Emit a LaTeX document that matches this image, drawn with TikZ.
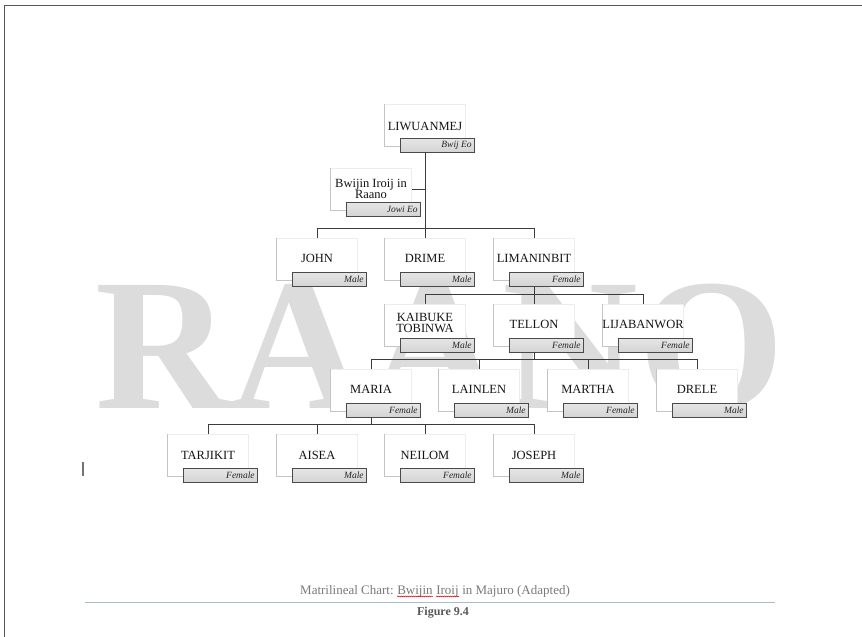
\documentclass[tikz,border=0pt]{standalone}
\usepackage{fontspec}
\setmainfont{Liberation Serif}
\usetikzlibrary{decorations.pathmorphing}
\definecolor{wmc}{HTML}{DCDCDC}
\definecolor{shadc}{HTML}{C4C4C4}
\definecolor{edgec}{HTML}{EDEDED}
\definecolor{gfill}{HTML}{D4D4D4}
\definecolor{gtop}{HTML}{E6E6E6}
\definecolor{gdraw}{HTML}{4A4A4A}
\definecolor{connc}{HTML}{3C3C3C}
\definecolor{capc}{HTML}{7A7A7A}
\definecolor{figc}{HTML}{595959}
\definecolor{rulec}{HTML}{A9BCCB}
\definecolor{framec}{HTML}{555555}
\tikzset{
  wbox/.style={minimum width=81pt, minimum height=42pt, inner sep=0pt, fill=white, draw=edgec, line width=0.6pt},
  shad/.style={draw=shadc, line width=1.2pt},
  gbox/.style={minimum width=74pt, minimum height=14pt, inner sep=0pt, top color=gtop, bottom color=gfill, draw=gdraw, line width=0.8pt},
  lab/.style={font=\fontsize{9.5}{10}\selectfont\itshape, text=black!85, inner sep=0pt, anchor=east},
  nm/.style={font=\fontsize{12.5}{11.5}\selectfont, text=black!92, align=center, inner sep=0pt},
  conn/.style={draw=connc, line width=0.9pt},
}
% #1 id, #2 centre x, #3 top of grey box, #4 name, #5 label, #6 name offset above grey box
\newcommand\pers[6]{%
  \node[wbox] (#1) at (#2,#3-13) {};
  \draw[shad] (#1.north west) -- (#1.south west) -- ++(16,0);
  \node[gbox] (#1g) at (#2+12,#3+7) {};
  \node[lab] at ([xshift=-2.5pt]#1g.east) {#5};
  \node[nm] (#1t) at (#2,#3-#6) {#4};
}
\begin{document}
\begin{tikzpicture}[x=1pt,y=-1pt]
\useasboundingbox (0,0) rectangle (862,637);
\fill[white] (0,0) rectangle (862,637);
% frame
\draw[framec, line width=1pt] (4,637) -- (4,5) -- (862,5);
% watermark
\node[text=wmc, font=\fontsize{188}{188}\selectfont\bfseries, anchor=base west, inner sep=0pt] (wm) at (95,408) {RAANO};
% people
\pers{liw}{425}{138}{LIWUANMEJ}{Bwij Eo}{12}
\pers{bwi}{371}{202}{Bwijin Iroij in\\Raano}{Jowi Eo}{13}
\pers{john}{317}{272}{JOHN}{Male}{14}
\pers{drime}{425}{272}{DRIME}{Male}{14}
\pers{lim}{534}{272}{LIMANINBIT}{Female}{14}
\pers{kai}{425}{338}{KAIBUKE\\TOBINWA}{Male}{15}
\pers{tel}{534}{338}{TELLON}{Female}{14}
\pers{lij}{643}{338}{LIJABANWOR}{Female}{14}
\pers{maria}{371}{403}{MARIA}{Female}{14}
\pers{lain}{479}{403}{LAINLEN}{Male}{14}
\pers{martha}{588}{403}{MARTHA}{Female}{14}
\pers{drele}{697}{403}{DRELE}{Male}{14}
\pers{tar}{208}{468}{TARJIKIT}{Female}{13}
\pers{aisea}{317}{468}{AISEA}{Male}{13}
\pers{neil}{425}{468}{NEILOM}{Female}{13}
\pers{jos}{534}{468}{JOSEPH}{Male}{13}
% connectors
\draw[conn] (liwg.south -| liw.center) -- (drime.north);
\draw[conn] (bwi.east) -- (bwi.east -| liw.center);
\coordinate (bus2) at ([yshift=9pt]john.north);
\draw[conn] (john.north) -- (bus2) -| (lim.north);
\coordinate (bus3) at ([yshift=9pt]kai.north);
\draw[conn] (limg.south -| lim.center) -- (tel.north);
\draw[conn] (kai.north) -- (bus3) -| (lij.north);
\coordinate (bus4) at ([yshift=9pt]maria.north);
\draw[conn] (maria.north) -- (bus4) -| (drele.north);
\draw[conn] (telg.south -| tel.center) -- (tel.center |- bus4);
\draw[conn] (lain.north) -- (lain.north |- bus4);
\draw[conn] (martha.north) -- (martha.north |- bus4);
\coordinate (bus5) at ([yshift=9pt]tar.north);
\draw[conn] (tar.north) -- (bus5) -| (jos.north);
\draw[conn] (mariag.south -| maria.center) -- (maria.center |- bus5);
\draw[conn] (aisea.north) -- (aisea.north |- bus5);
\draw[conn] (neil.north) -- (neil.north |- bus5);
% small mark
\draw[black!55, line width=1.6pt] (83,462) -- (83,476);
% caption
\begin{scope}[every node/.style={font=\fontsize{13}{15}\selectfont, text=capc, inner sep=0pt, anchor=base west}]
\node (c1) at (300,594) {Matrilineal Chart:};
\node (c2) at ([xshift=3.2pt]c1.base east) {Bwijin};
\node (c3) at ([xshift=3.2pt]c2.base east) {Iroij};
\node (c4) at ([xshift=3.2pt]c3.base east) {in Majuro (Adapted)};
\end{scope}
\draw[red!80!black, line width=0.5pt, decorate, decoration={snake, amplitude=0.5pt, segment length=2pt}] ([yshift=-2.4pt]c2.base west) -- ([yshift=-2.4pt]c2.base east);
\draw[red!80!black, line width=0.5pt, decorate, decoration={snake, amplitude=0.5pt, segment length=2pt}] ([yshift=-2.4pt]c3.base west) -- ([yshift=-2.4pt]c3.base east);
\draw[rulec, line width=0.8pt] (85,602) -- (775,602);
\node[font=\fontsize{12}{14}\selectfont\bfseries, text=figc, inner sep=0pt] (fig) at (443,613) {Figure 9.4};
\end{tikzpicture}
\end{document}
